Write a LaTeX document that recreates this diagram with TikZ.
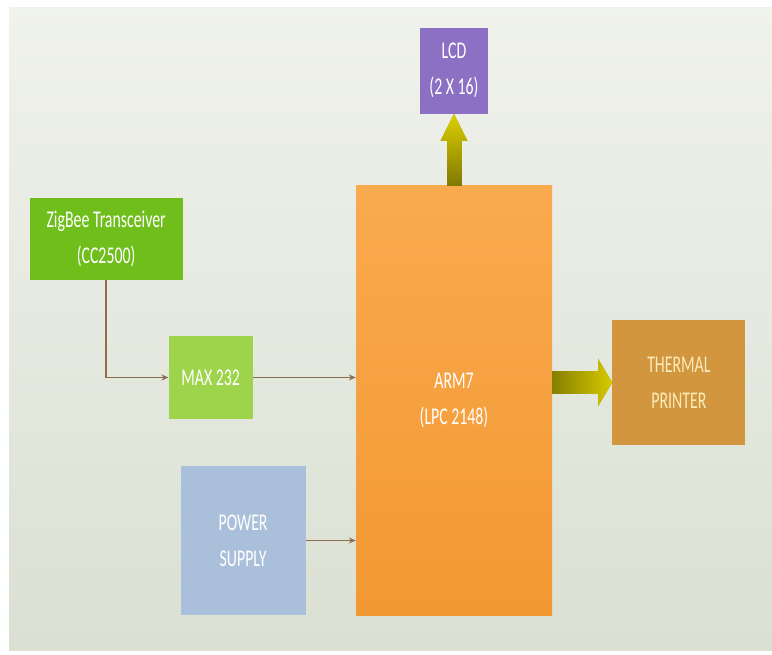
\documentclass[tikz,border=0pt]{standalone}
\usepackage{fontspec}
\setmainfont{Carlito}[FakeStretch=0.66]
\usepackage{tikz}
\usetikzlibrary{positioning,arrows.meta,shapes,backgrounds,fit,fadings}

\definecolor{bgtop}{RGB}{240,242,236}
\definecolor{bgbottom}{RGB}{218,224,210}
\definecolor{zigbeegreen}{RGB}{112,190,28}
\definecolor{maxgreen}{RGB}{158,212,76}
\definecolor{armtop}{RGB}{250,170,78}
\definecolor{armbottom}{RGB}{242,152,50}
\definecolor{lcdpurple}{RGB}{140,112,196}
\definecolor{printergold}{RGB}{210,150,62}
\definecolor{powerblue}{RGB}{170,192,218}
\definecolor{linebrown}{RGB}{140,110,80}
\definecolor{fatolive}{RGB}{118,112,0}
\definecolor{fatyellow}{RGB}{232,218,0}
\definecolor{printertext}{RGB}{250,236,186}

\tikzfading[name=fadeup, top color=transparent!0, bottom color=transparent!100]
\tikzfading[name=faderight, right color=transparent!0, left color=transparent!100]

\begin{document}
\begin{tikzpicture}[
            x=1pt, y=1pt,
            block/.style={rectangle, inner sep=0pt, text=white, align=center, font=\fontsize{24}{36}\selectfont},
            arrow/.style={-{Stealth[length=7pt,width=6pt]}, line width=1.3pt, draw=linebrown},
            fatarrow/.style n args={3}{-{Triangle[length=#3,width=#2,line width=0pt]}, line width=#1}
        ]
        \useasboundingbox (0,0) rectangle (772,-655);
        \fill[white] (0,0) rectangle (772,-655);
        \shade[top color=bgtop, bottom color=bgbottom] (9,-8) rectangle (772,-650);

        \node[block, top color=armtop, bottom color=armbottom, minimum width=196pt, minimum height=429pt] (arm) at (454,-400.5) {ARM7\\(LPC 2148)};
        \node[block, fill=lcdpurple, minimum width=68pt, minimum height=86pt, above=72pt of arm] (lcd) {LCD\\(2 X 16)};
        \node[block, fill=printergold, text=printertext, minimum width=133pt, minimum height=124pt, right=60pt of arm, yshift=18pt] (printer) {THERMAL\\PRINTER};
        \node[block, fill=maxgreen, minimum width=84pt, minimum height=83pt, left=103pt of arm, yshift=23pt] (max) {MAX 232};
        \node[block, fill=zigbeegreen, minimum width=153pt, minimum height=82pt, above=56pt of max, xshift=-104.5pt] (zigbee) {ZigBee Transceiver\\(CC2500)};
        \node[block, fill=powerblue, minimum width=125pt, minimum height=149pt, left=50pt of arm.south west, anchor=south east] (power) {POWER\\SUPPLY};

        \draw[arrow] (zigbee.south) |- (max);
        \draw[arrow] (max) -- (max -| arm.west);
        \draw[arrow] (power) -- (power -| arm.west);
        % fat arrows: olive base, yellow faded in over it
        \draw[fatarrow={15pt}{27pt}{27pt}, draw=fatolive] (arm.north) -- (lcd.south);
        \draw[fatarrow={15pt}{27pt}{27pt}, draw=fatyellow, path fading=fadeup] (arm.north) -- (lcd.south);
        \draw[fatarrow={23pt}{47pt}{14pt}, draw=fatolive] (printer -| arm.east) -- (printer.west);
        \draw[fatarrow={23pt}{47pt}{14pt}, draw=fatyellow, path fading=faderight] (printer -| arm.east) -- (printer.west);
        \end{tikzpicture}
\end{document}
